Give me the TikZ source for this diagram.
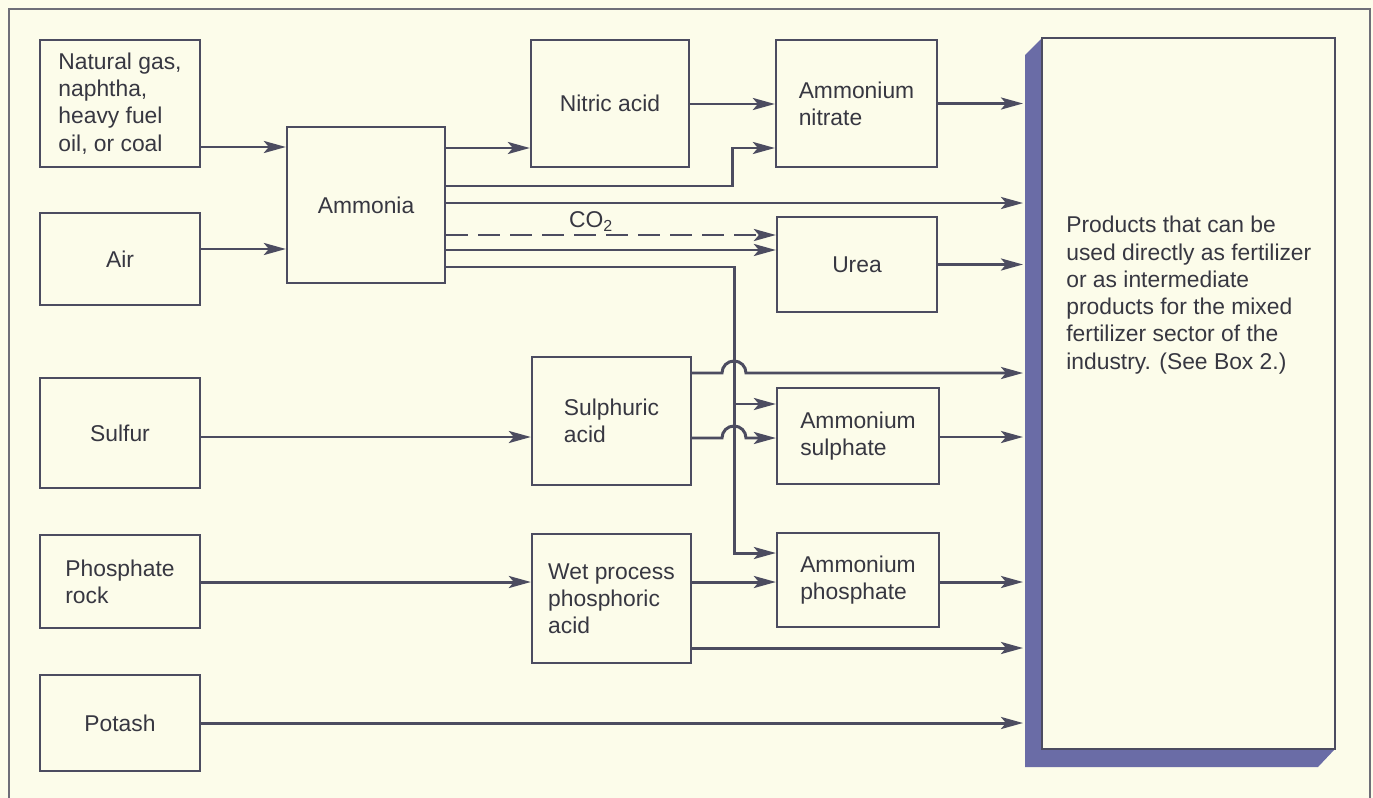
\documentclass[tikz,border=0pt]{standalone}
\usepackage{fontspec}
\setmainfont{Liberation Sans}
\usetikzlibrary{arrows.meta}
\definecolor{paper}{RGB}{252,252,234}
\definecolor{ink}{RGB}{76,76,96}
\definecolor{txt}{RGB}{55,55,65}
\definecolor{slab}{RGB}{106,108,166}
\definecolor{rim}{RGB}{110,110,120}

\begin{document}
\begin{tikzpicture}[x=0.02cm, y=-0.02cm,
    >={Stealth[length=4.4mm, width=2.4mm, inset=1mm]},
    box/.style={draw=ink, line width=1.3pt, rectangle, align=left, text=txt,
        font=\fontsize{13pt}{15.5pt}\selectfont},
    flow/.style={draw=ink, line width=1.7pt},
    gasflow/.style={flow, dash pattern=on 0.44cm off 0.2cm},
    lbl/.style={text=txt, font=\fontsize{13pt}{15.5pt}\selectfont}]
    % Page and frame
    \fill[paper] (0,0) rectangle (1373,798);
    \useasboundingbox (0,0) rectangle (1373,798);
    \draw[rim, line width=0.8pt] (9,9) rectangle (1370,812);

    % Nodes
    \node[box, minimum width=3.2cm, minimum height=2.54cm] (gas) at (120,103.5) {Natural gas,\\naphtha,\\heavy fuel\\oil, or coal};
    \node[box, minimum width=3.2cm, minimum height=1.84cm] (air) at (120,259) {Air};
    \node[box, minimum width=3.2cm, minimum height=2.2cm] (sulfur) at (120,433) {Sulfur};
    \node[box, minimum width=3.2cm, minimum height=1.86cm] (rock) at (120,581.5) {Phosphate\\rock};
    \node[box, minimum width=3.2cm, minimum height=1.92cm] (potash) at (120,723) {Potash};
    \node[box, minimum width=3.16cm, minimum height=3.12cm] (ammonia) at (366,205) {Ammonia};
    \node[box, minimum width=3.16cm, minimum height=2.54cm] (nitric) at (610,103.5) {Nitric acid};
    \node[box, minimum width=3.18cm, minimum height=2.56cm] (sulphuric) at (611.5,421) {Sulphuric\\acid};
    \node[box, minimum width=3.18cm, minimum height=2.58cm] (wetacid) at (611.5,598.5) {Wet process\\phosphoric\\acid};
    \node[box, minimum width=3.22cm, minimum height=2.54cm] (nitrate) at (856.5,103.5) {Ammonium\\nitrate};
    \node[box, minimum width=3.2cm, minimum height=1.9cm] (urea) at (857,264.5) {Urea};
    \node[box, minimum width=3.24cm, minimum height=1.92cm] (sulphate) at (858,436) {Ammonium\\sulphate};
    \node[box, minimum width=3.24cm, minimum height=1.88cm] (phosphate) at (858,580) {Ammonium\\phosphate};

    % Products block with its shadow
    \fill[slab] (1042,38) -- (1025,55) -- (1025,767) -- (1318,767) -- (1335,749) -- (1042,749) -- cycle;
    \node[draw=ink, line width=1.3pt, inner sep=0, minimum width=5.86cm, minimum height=14.22cm] (products) at (1188.5,393.5) {};
    \node[lbl, anchor=north west, inner sep=0, align=left] (prodtext) at (1066,216) {Products that can be\\used directly as fertilizer\\or as intermediate\\products for the mixed\\fertilizer sector of the\\industry. (See Box 2.)};
    \coordinate (edge) at (1023,0);
    \coordinate (drop) at (734,267);

    % Connections
    \draw[flow, ->] (gas.east |- 0,147) -- (ammonia.west |- 0,147);
    \draw[flow, ->] (air.east |- 0,249) -- (ammonia.west |- 0,249);
    \draw[flow, ->] (ammonia.east |- 0,148) -- (nitric.west |- 0,148);
    \draw[flow, ->] (nitric.east |- 0,104) -- (nitrate.west |- 0,104);
    \draw[flow, ->] (ammonia.east |- 0,186) -- (732,186) |- (nitrate.west |- 0,148);
    \draw[flow, ->] (nitrate.east) -- (edge |- nitrate.east);
    \draw[flow, ->] (ammonia.east |- 0,203) -- (edge |- 0,203);
    \draw[gasflow, ->] (ammonia.east |- 0,235) -- node[lbl, pos=0.44, above, inner sep=1pt] {CO\textsubscript{2}} (urea.west |- 0,235);
    \draw[flow, ->] (ammonia.east |- 0,250) -- (urea.west |- 0,250);
    \draw[flow, ->] (urea.east) -- (edge |- urea.east);
    \draw[flow, ->] (ammonia.east |- drop) -- (drop) |- (phosphate.west |- 0,553);
    \draw[flow, ->] (drop |- 0,404) -- (sulphate.west |- 0,404);
    \draw[flow, ->] (sulphuric.east |- 0,373) -- (722,373) arc[start angle=180, end angle=0, radius=0.24cm] -- (edge |- 0,373);
    \draw[flow, ->] (sulphuric.east |- 0,438) -- (722,438) arc[start angle=180, end angle=0, radius=0.24cm] -- (sulphate.west |- 0,438);
    \draw[flow, ->] (sulfur.east |- 0,437) -- (sulphuric.west |- 0,437);
    \draw[flow, ->] (sulphate.east |- 0,437) -- (edge |- 0,437);
    \draw[flow, ->] (rock.east |- 0,582) -- (wetacid.west |- 0,582);
    \draw[flow, ->] (wetacid.east |- 0,582) -- (phosphate.west |- 0,582);
    \draw[flow, ->] (phosphate.east |- 0,582) -- (edge |- 0,582);
    \draw[flow, ->] (wetacid.east |- 0,648) -- (edge |- 0,648);
    \draw[flow, ->] (potash.east |- 0,723) -- (edge |- 0,723);
\end{tikzpicture}
\end{document}
